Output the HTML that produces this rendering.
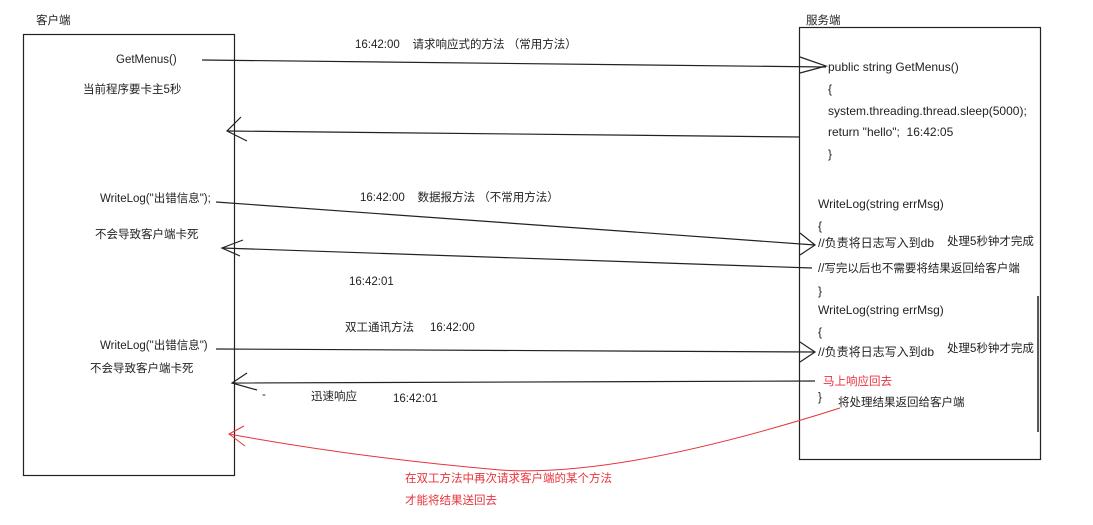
<!DOCTYPE html>
<html><head><meta charset="utf-8"><style>
html,body{margin:0;padding:0;background:#fff;}
body{width:1093px;height:525px;position:relative;overflow:hidden;font-family:"Liberation Sans","Noto Sans CJK SC",sans-serif;font-size:11.5px;color:#222;}
.t{position:absolute;white-space:nowrap;line-height:14px;}
.c{font-size:12px;}
.r{color:#e8323c;}
svg{position:absolute;left:0;top:0;}
</style></head><body>
<svg width="1093" height="525">
<g fill="none" stroke="#222" stroke-width="1.2">
<rect x="23.5" y="34.5" width="211" height="441"/>
<rect x="799.5" y="27.5" width="241" height="432"/>
<line x1="1038" y1="296" x2="1038" y2="432" stroke-width="1.5"/>
<line x1="202" y1="60" x2="826" y2="67"/>
<polyline points="800,57 826,66 800,73"/>
<line x1="800" y1="137" x2="227" y2="131"/>
<polyline points="241,117 227,131 247,141"/>
<line x1="216" y1="202" x2="815" y2="245"/>
<polyline points="800,233 815,245 800,255"/>
<line x1="812" y1="268" x2="222" y2="248"/>
<polyline points="243,240 222,248 240,256"/>
<line x1="216" y1="349" x2="815" y2="352"/>
<polyline points="800,342 815,352 800,362"/>
<line x1="815" y1="381" x2="232" y2="383"/>
<polyline points="247,373 232,383 257,390"/>
</g>
<g fill="none" stroke="#e8323c" stroke-width="1">
<path d="M840,408 Q620,478 500,470 Q360,458 229,434"/>
<polyline points="244,426 229,434 245,446"/>
</g>
</svg>
<div class="t" style="left:36px;top:14px;">客户端</div>
<div class="t" style="left:806px;top:14px;">服务端</div>
<div class="t" style="left:116px;top:53px;">GetMenus()</div>
<div class="t" style="left:83px;top:83px;">当前程序要卡主5秒</div>
<div class="t" style="left:355px;top:38px;">16:42:00 &nbsp;&nbsp;&nbsp;请求响应式的方法 （常用方法）</div>
<div class="t c" style="left:828px;top:60px;">public string GetMenus()</div>
<div class="t c" style="left:828px;top:82px;">{</div>
<div class="t c" style="left:828px;top:104px;">system.threading.thread.sleep(5000);</div>
<div class="t c" style="left:828px;top:125px;">return "hello"; &nbsp;16:42:05</div>
<div class="t c" style="left:828px;top:147px;">}</div>
<div class="t" style="left:100px;top:192px;">WriteLog("出错信息");</div>
<div class="t" style="left:95px;top:228px;">不会导致客户端卡死</div>
<div class="t" style="left:360px;top:191px;">16:42:00 &nbsp;&nbsp;&nbsp;数据报方法 （不常用方法）</div>
<div class="t" style="left:349px;top:275px;">16:42:01</div>
<div class="t c" style="left:818px;top:197px;">WriteLog(string errMsg)</div>
<div class="t c" style="left:818px;top:219px;">{</div>
<div class="t c" style="left:818px;top:236px;">//负责将日志写入到db</div>
<div class="t" style="left:947px;top:235px;">处理5秒钟才完成</div>
<div class="t" style="left:818px;top:262px;">//写完以后也不需要将结果返回给客户端</div>
<div class="t c" style="left:818px;top:284px;">}</div>
<div class="t c" style="left:818px;top:303px;">WriteLog(string errMsg)</div>
<div class="t c" style="left:818px;top:325px;">{</div>
<div class="t c" style="left:818px;top:345px;">//负责将日志写入到db</div>
<div class="t" style="left:947px;top:342px;">处理5秒钟才完成</div>
<div class="t r" style="left:823px;top:375px;">马上响应回去</div>
<div class="t" style="left:818px;top:391px;">}</div>
<div class="t" style="left:838px;top:396px;">将处理结果返回给客户端</div>
<div class="t" style="left:345px;top:321px;">双工通讯方法 &nbsp;&nbsp;&nbsp;&nbsp;16:42:00</div>
<div class="t" style="left:100px;top:339px;">WriteLog("出错信息")</div>
<div class="t" style="left:90px;top:362px;">不会导致客户端卡死</div>
<div class="t" style="left:262px;top:388px;">-</div>
<div class="t" style="left:311px;top:390px;">迅速响应</div>
<div class="t" style="left:393px;top:392px;">16:42:01</div>
<div class="t r" style="left:405px;top:472px;">在双工方法中再次请求客户端的某个方法</div>
<div class="t r" style="left:405px;top:494px;">才能将结果送回去</div>
</body></html>
